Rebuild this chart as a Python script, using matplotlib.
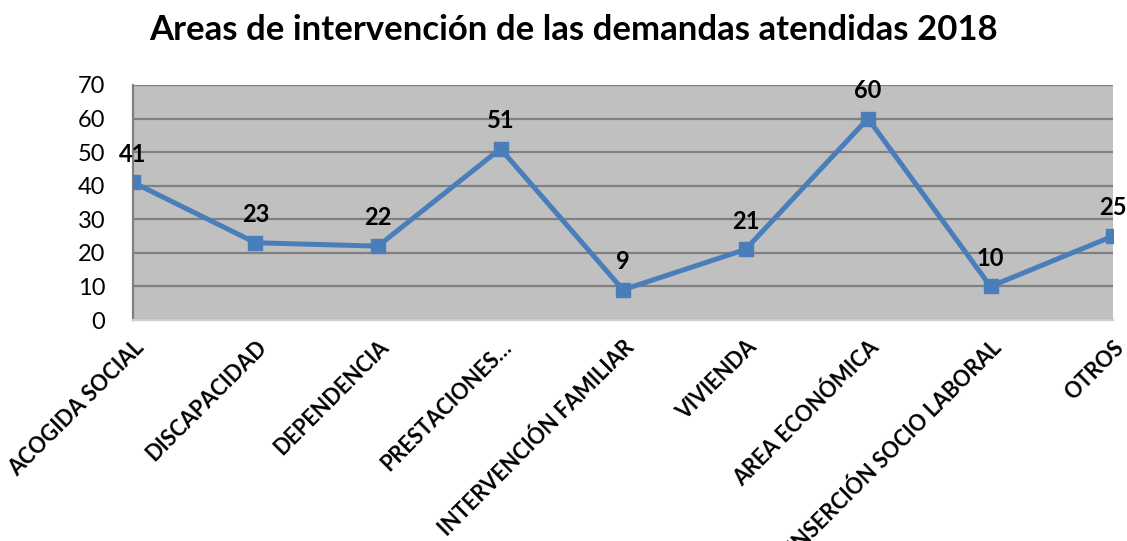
import matplotlib.pyplot as plt

categories = ['ACOGIDA SOCIAL', 'DISCAPACIDAD', 'DEPENDENCIA', 'PRESTACIONES…',
              'INTERVENCIÓN FAMILIAR', 'VIVIENDA', 'AREA ECONÓMICA',
              'INSERCIÓN SOCIO LABORAL', 'OTROS']
values = [41, 23, 22, 51, 9, 21, 60, 10, 25]
yticks = [0, 10, 20, 30, 40, 50, 60, 70]

plt.rcParams['font.family'] = ['Lato', 'DejaVu Sans']

fig = plt.figure(figsize=(11.27, 5.41), dpi=100)
ax = fig.add_axes([0.118, 0.4085, 0.8696, 0.4345])
ax.set_facecolor('#C0C0C0')

x = list(range(len(categories)))
ax.plot(x, values, color='#4A7EBB', linewidth=3.6, marker='s', markersize=10, zorder=3)

for xi, v in zip(x, values):
    ax.annotate(str(v), (xi, v), xytext=(0, 12), textcoords='offset points',
                ha='center', va='bottom', fontsize=17, fontweight='bold')

ax.set_xlim(0, len(categories) - 1)
ax.set_ylim(0, 70)
ax.set_yticks(yticks)
ax.yaxis.grid(True, color='#808080', linewidth=1.6)
ax.set_axisbelow(True)
ax.tick_params(axis='y', length=0, labelsize=17, pad=20)
ax.tick_params(axis='x', length=0, pad=12)
ax.set_xticks(x)
ax.set_xticklabels(categories, rotation=45, ha='right', rotation_mode='anchor',
                   fontsize=15.5, fontweight='bold')

for s in ['top', 'right']:
    ax.spines[s].set_visible(False)
ax.spines['left'].set_color('#808080')
ax.spines['bottom'].set_color('#D0D0D0')
ax.spines['left'].set_linewidth(1.6)
ax.spines['bottom'].set_linewidth(1.6)

fig.text(0.5085, 0.945, 'Areas de intervención de las demandas atendidas 2018',
         ha='center', va='center', fontsize=25, fontweight='bold')

fig.savefig('out.png')
